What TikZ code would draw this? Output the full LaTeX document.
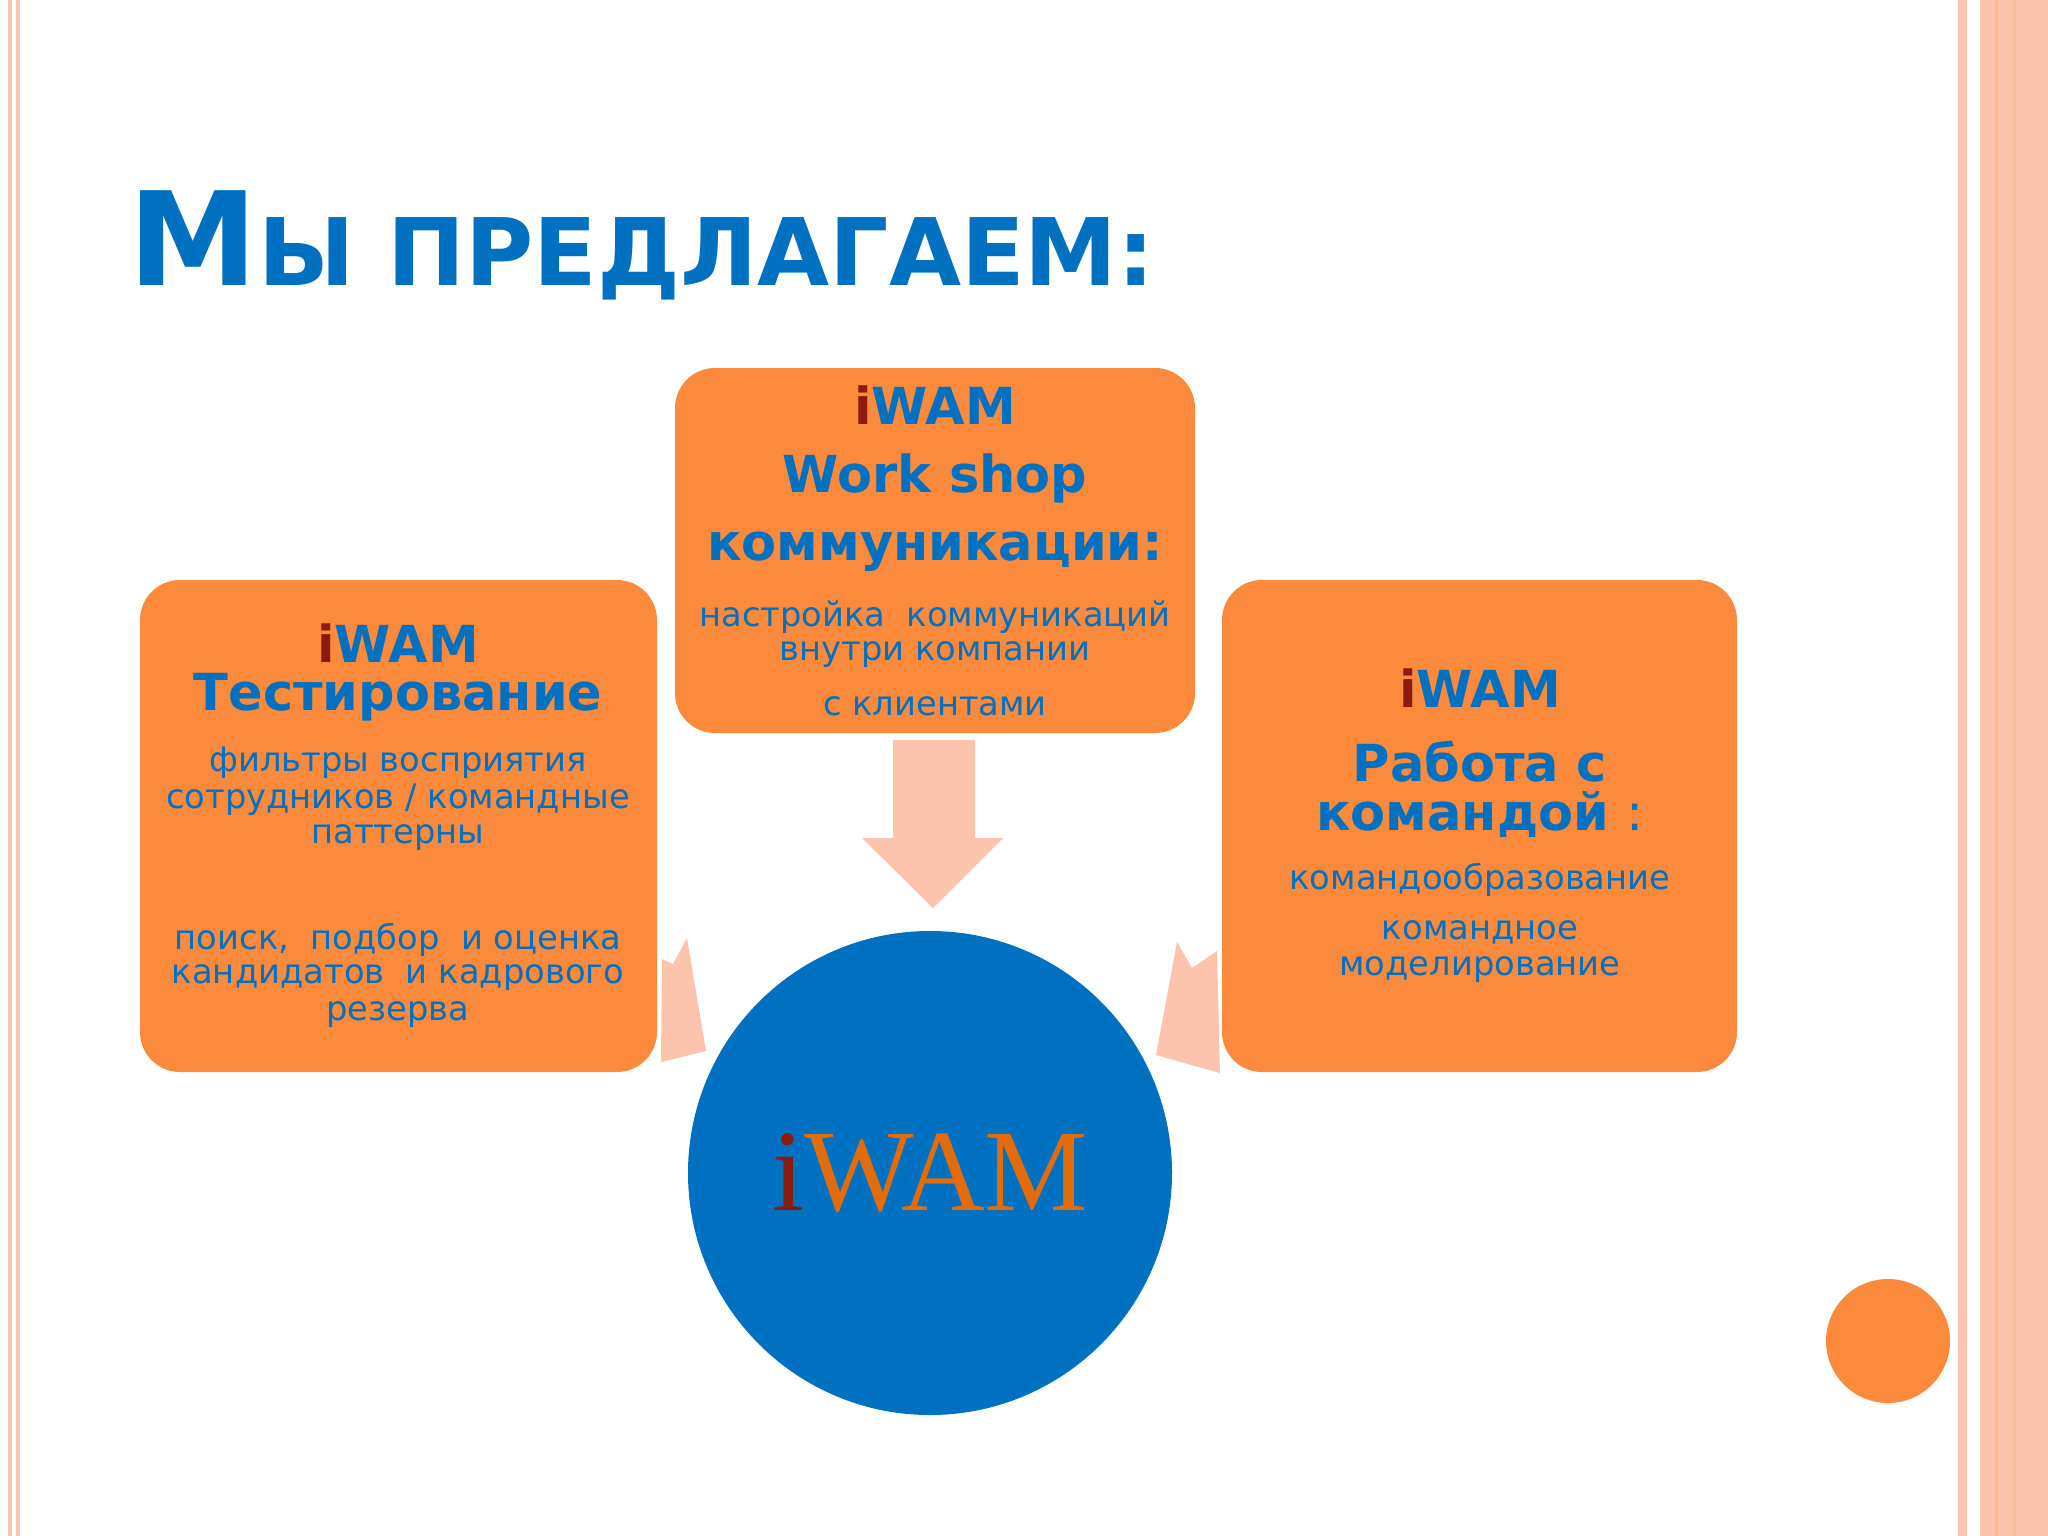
\documentclass[tikz,border=0pt]{standalone}
\usepackage{fontspec}
\setmainfont{DejaVu Sans}
\newfontfamily\serifw{Liberation Serif}
\definecolor{iblue}{HTML}{0070C0}
\definecolor{iorange}{HTML}{FB8A3C}
\definecolor{ired}{HTML}{8B1A10}
\definecolor{isalmon}{HTML}{FCC4AC}
\definecolor{iorg}{HTML}{E36C0A}
\newcommand{\iw}{{\color{ired}i}WAM}
\begin{document}
\begin{tikzpicture}[x=0.01cm,y=-0.01cm,
  box/.style={fill=iorange,rounded corners=0.4cm},
  hd/.style={text=iblue,font=\fontsize{14.5}{17}\selectfont\bfseries,inner sep=0pt},
  tx/.style={text=iblue,font=\fontsize{9.6}{11}\selectfont,inner sep=0pt},
  arr/.style={fill=isalmon}]
\useasboundingbox (0,0) rectangle (2048,1536);
\fill[white] (0,0) rectangle (2048,1536);
% borders
\fill[isalmon] (8,0) rectangle (12,1536);
\fill[isalmon] (16,0) rectangle (20,1536);
\fill[isalmon] (1958,0) rectangle (1967,1536);
\fill[isalmon] (1980,0) rectangle (2048,1536);
\fill[isalmon!85!orange] (1995,0) rectangle (1998,1536);
\fill[isalmon!92!orange] (2013,0) rectangle (2016,1536);
% title
\node[anchor=base west,text=iblue,inner sep=0pt,font=\bfseries] (title) at (128,285)
  {{\fontsize{37}{40}\selectfont М}{\fontsize{26.5}{30}\selectfont Ы ПРЕДЛАГАЕМ:}};
% arrows
\fill[arr] (662,959) -- (673,964) -- (687,938) -- (706,1051) -- (661,1062) -- cycle;
\fill[arr] (1177,942) -- (1192,968) -- (1217,951) -- (1220,1073) -- (1156,1055) -- cycle;
\fill[arr] (893,740) -- (975,740) -- (975,838) -- (1003,838) -- (933,908) -- (862,838) -- (893,838) -- cycle;
% boxes
\fill[box] (675,368) rectangle (1195,733);
\fill[box] (140,580) rectangle (657,1072);
\fill[box] (1222,580) rectangle (1737,1072);
% circles
\fill[iblue] (930,1173) circle (242);
\fill[iorange] (1888,1341) circle (62);
\node[inner sep=0pt,text=iorg,font=\serifw\fontsize{33}{36}\selectfont] (big) at (930,1173) {\iw};
% top box
\node[hd] (t1) at (935,405) {\iw};
\node[hd] (t2) at (935,478) {Work shop};
\node[hd] (t3) at (935,552) {коммуникации:};
\node[tx] (t4) at (935,617) {настройка\ \ коммуникаций};
\node[tx] (t5) at (935,655) {внутри компании};
\node[tx] (t6) at (935,706) {с клиентами};
% left box
\node[hd] (l1) at (398,643) {\iw};
\node[hd] (l2) at (398,697) {Тестирование};
\node[tx] (l3) at (398,763) {фильтры восприятия};
\node[tx] (l4) at (398,800) {сотрудников / командные};
\node[tx] (l5) at (398,838) {паттерны};
\node[tx] (l6) at (398,940) {поиск,\ \ подбор\ \ и оценка};
\node[tx] (l7) at (398,978) {кандидатов\ \ и кадрового};
\node[tx] (l8) at (398,1015) {резерва};
% right box
\node[hd] (r1) at (1480,688) {\iw};
\node[hd] (r2) at (1480,762) {Работа с};
\node[hd] (r3) at (1480,815) {командой {\mdseries :}};
\node[tx] (r4) at (1480,880) {командообразование};
\node[tx] (r5) at (1480,932) {командное};
\node[tx] (r6) at (1480,970) {моделирование};
\end{tikzpicture}
\end{document}
